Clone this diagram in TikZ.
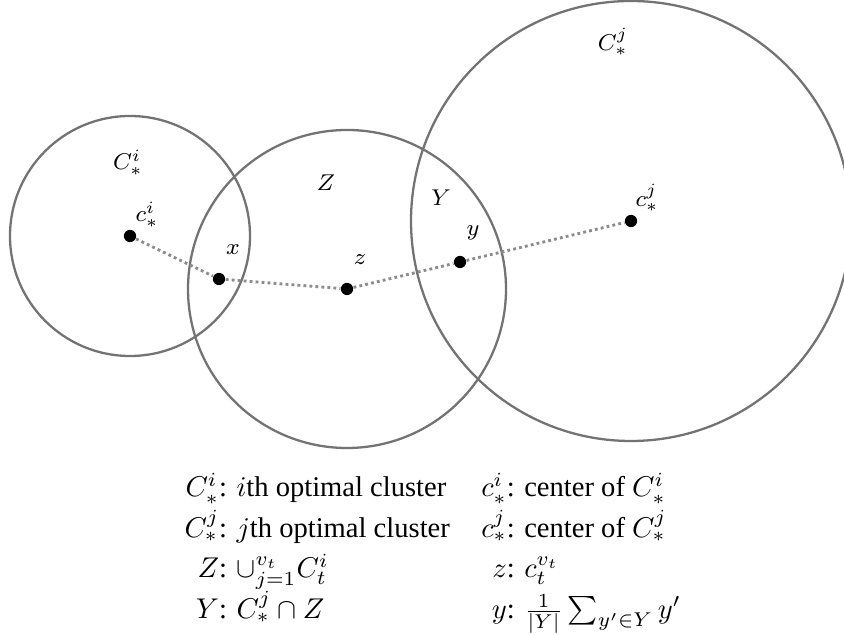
\documentclass[tikz,border=0pt]{standalone}
\usepackage[no-math]{fontspec}
\setmainfont{Liberation Serif}
\usetikzlibrary{positioning}

\begin{document}
\begin{tikzpicture}[
    x=0.35pt, y=0.35pt,
    clus/.style={draw=black!55, line width=0.8pt},
    pt/.style={circle, fill=black, inner sep=0pt, minimum size=4.3pt},
    lbl/.style={inner sep=0pt, font=\footnotesize},
    link/.style={draw=black!45, line width=1pt, dash pattern=on 1pt off 1.1pt}
  ]
    \useasboundingbox (0,0) rectangle (844,-635);
    % centres and means
    \node[pt] (ci) at (130,-236) {};
    \node[pt] (x) at (219,-279) {};
    \node[pt] (z) at (347,-289) {};
    \node[pt] (y) at (460,-262) {};
    \node[pt] (cj) at (631,-221) {};
    % clusters
    \draw[clus] (ci) circle[radius=120];
    \draw[clus] (z) circle[radius=159];
    \draw[clus] (cj) circle[radius=220];
    \draw[link] (ci) -- (x) -- (z) -- (y) -- (cj);
    % labels
    \node[lbl] (Cil) at (128,-163) {$C_*^i$};
    \node[lbl] (Zl) at (326,-183) {$Z$};
    \node[lbl] (Yl) at (441,-198) {$Y$};
    \node[lbl] (Cjl) at (613,-42) {$C_*^j$};
    \node[lbl] (cil) at ([shift={(17,21)}]ci) {$c_*^i$};
    \node[lbl] (xl) at ([shift={(14,29)}]x) {$x$};
    \node[lbl] (zl) at ([shift={(13,29)}]z) {$z$};
    \node[lbl] (yl) at ([shift={(13,29)}]y) {$y$};
    \node[lbl] (cjl) at ([shift={(16,23)}]cj) {$c_*^j$};
    % legend
    \node[anchor=base west, inner sep=0pt] (legend) at (184,-497) {%
      \renewcommand{\arraystretch}{1.18}%
      \begin{tabular}[t]{@{}r@{: }l@{\hspace{11pt}}r@{: }l@{}}
        $C_*^i$ & $i$th optimal cluster & $c_*^i$ & center of $C_*^i$\\
        $C_*^j$ & $j$th optimal cluster & $c_*^j$ & center of $C_*^j$\\
        $Z$ & $\cup_{j=1}^{v_t} C_t^i$ & $z$ & $c_t^{v_t}$\\
        $Y$ & $C_*^j \cap Z$ & $y$ & $\frac{1}{|Y|}\sum_{y'\in Y} y'$
      \end{tabular}};
\end{tikzpicture}
\end{document}
